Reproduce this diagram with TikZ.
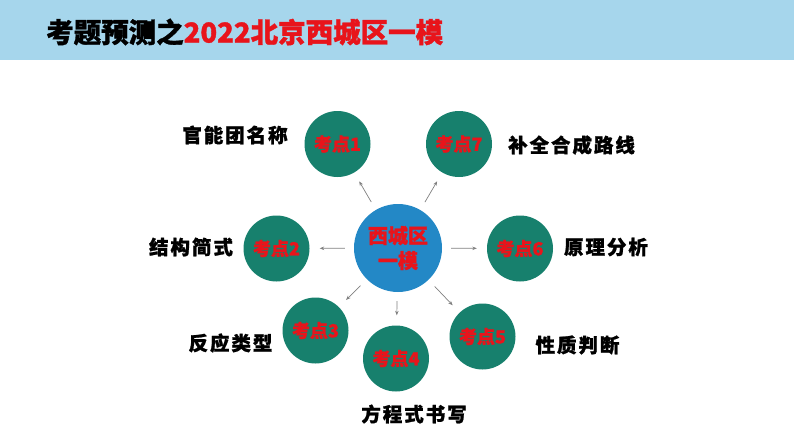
\documentclass[tikz,border=0pt]{standalone}
\usepackage{fontspec}
\setmainfont{Noto Sans CJK SC}[BoldFeatures={FakeBold=1.2}]
\newfontfamily\labfont{Noto Sans CJK SC}[LetterSpace=10,BoldFeatures={FakeBold=1.2}]
\usetikzlibrary{arrows.meta}
\definecolor{bandblue}{HTML}{A6D6EC}
\definecolor{kdteal}{HTML}{17806D}
\definecolor{ctrblue}{HTML}{2388C6}
\definecolor{kdred}{HTML}{E8141B}
\definecolor{arrgray}{HTML}{808080}
\tikzset{
  kd/.style={circle, fill=kdteal, minimum size=66pt, inner sep=0pt,
    text=kdred, font=\bfseries\fontsize{18}{20}\selectfont},
  ctr/.style={circle, fill=ctrblue, minimum size=88pt, inner sep=0pt,
    text=kdred, align=center, font=\bfseries\fontsize{20}{25}\selectfont},
  lab/.style={inner sep=0pt, text=black, font=\labfont\bfseries\fontsize{19.5}{22}\selectfont},
  arr/.style={draw=arrgray, line width=0.7pt, -{Stealth[length=4.5pt,width=3.5pt]},
    shorten <=9pt, shorten >=10pt}
}
\begin{document}
\begin{tikzpicture}[x=1pt,y=-1pt]
\useasboundingbox (0,0) rectangle (794,447);
\fill[bandblue] (0,0) rectangle (794,60);
\node[anchor=west, inner sep=0pt, font=\bfseries\fontsize{27.5}{30}\selectfont] (title) at (46,32)
  {考题预测之\textcolor{kdred}{2022北京西城区一模}};
\node[ctr] (c) at (398,248) {西城区\\一模};
\node[kd] (k1) at (337.5,144) {考点1};
\node[kd] (k7) at (459,144) {考点7};
\node[kd] (k2) at (276.5,248.5) {考点2};
\node[kd] (k6) at (520,248.5) {考点6};
\node[kd] (k3) at (315.5,330.5) {考点3};
\node[kd] (k4) at (396,358.5) {考点4};
\node[kd] (k5) at (482.5,336.5) {考点5};
\node[lab] (l1) at (235,135) {官能团名称};
\node[lab] (l7) at (571.5,145) {补全合成路线};
\node[lab] (l2) at (191,247) {结构简式};
\node[lab] (l6) at (606,247) {原理分析};
\node[lab] (l3) at (230.5,343) {反应类型};
\node[lab] (l4) at (414,414) {方程式书写};
\node[lab] (l5) at (577.5,345) {性质判断};
\foreach \k in {k1,k2,k3,k4,k5,k6,k7} \draw[arr] (c) -- (\k);
\end{tikzpicture}
\end{document}
